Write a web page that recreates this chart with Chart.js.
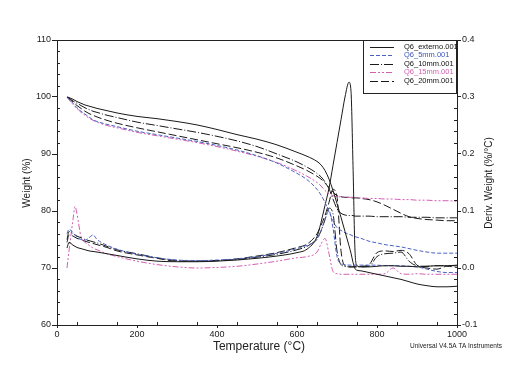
<!DOCTYPE html>
<html><head><meta charset="utf-8">
<script src="https://cdn.jsdelivr.net/npm/chart.js@4.4.0/dist/chart.umd.min.js"></script>
<style>html,body{margin:0;padding:0;background:#fff}#wrap{width:529px;height:368px}</style>
</head><body><div id="wrap"><canvas id="c" width="529" height="368"></canvas></div>
<script>
const temps = [25,30,40,45,50,60,70,80,90,100,125,150,200,250,300,350,400,450,500,550,600,625,650,660,670,680,690,700,710,720,730,735,740,745,750,760,780,800,820,840,860,880,900,925,950,975,1000];

const seriesNames = ["Q6_externo.001","Q6_5mm.001","Q6_10mm.001","Q6_15mm.001","Q6_20mm.001"];

const wExterno = [100,99.9,99.6,99.4,99.2,98.9,98.6,98.4,98.2,98.0,97.6,97.2,96.6,96.2,95.7,95.1,94.3,93.4,92.6,91.6,90.3,89.6,88.7,88.1,87.1,85.6,83.6,81.3,78.9,76.4,73.9,72.6,71.0,69.9,69.6,69.5,69.2,68.9,68.6,68.3,68.0,67.6,67.2,66.9,66.7,66.7,66.8];
const w5mm = [100,99.6,98.9,98.5,98.1,97.5,97.0,96.5,96.0,95.7,95.2,94.8,94.0,93.4,92.8,92.2,91.5,90.7,89.7,88.4,86.6,85.5,83.8,82.8,81.5,79.9,78.3,77.1,76.6,76.2,75.9,75.8,75.6,75.5,75.4,75.2,74.7,74.4,74.1,73.9,73.7,73.4,73.1,72.8,72.6,72.6,72.6];
const w10mm = [100,99.8,99.3,99.1,98.9,98.5,98.1,97.8,97.5,97.3,96.8,96.4,95.6,95.0,94.4,93.8,93.1,92.3,91.3,90.0,88.6,87.7,86.6,86.0,85.1,83.9,82.1,80.4,79.6,79.3,79.2,79.2,79.2,79.1,79.1,79.1,79.1,79.0,79.0,79.0,79.0,78.9,78.9,78.9,78.8,78.8,78.8];
const w15mm = [100,99.5,98.7,98.3,98.0,97.3,96.8,96.3,95.9,95.6,95.0,94.6,93.8,93.2,92.6,92.0,91.3,90.5,89.6,88.5,87.0,86.1,85.0,84.4,83.6,83.0,82.7,82.5,82.5,82.4,82.4,82.4,82.4,82.4,82.3,82.3,82.2,82.2,82.1,82.1,82.0,82.0,81.9,81.9,81.8,81.8,81.7];
const w20mm = [100,99.7,99.1,98.8,98.5,98.0,97.5,97.1,96.8,96.5,95.9,95.4,94.6,93.9,93.2,92.5,91.8,91.1,90.3,89.3,87.9,87.1,86.1,85.6,84.9,84.1,83.3,82.7,82.5,82.4,82.4,82.3,82.3,82.3,82.3,82.2,82.0,81.6,81.0,80.3,79.6,79.0,78.7,78.5,78.4,78.3,78.3];

const dExterno = [0.035,0.045,0.04,0.038,0.036,0.034,0.032,0.03,0.029,0.028,0.025,0.022,0.016,0.012,0.011,0.011,0.012,0.014,0.017,0.021,0.027,0.033,0.055,0.08,0.11,0.14,0.18,0.22,0.26,0.30,0.326,0.31,0.18,0.03,0.004,0.002,0.002,0.003,0.004,0.004,0.003,0.003,0.002,0.003,0.004,0.004,0.005];
const d5mm = [0.06,0.068,0.062,0.058,0.054,0.05,0.049,0.053,0.058,0.05,0.04,0.033,0.024,0.018,0.014,0.013,0.014,0.016,0.02,0.026,0.034,0.04,0.05,0.065,0.085,0.1,0.07,0.02,0.008,0.006,0.005,0.005,0.005,0.005,0.005,0.005,0.005,0.005,0.004,0.004,0.004,0.003,0.002,-0.002,-0.006,-0.008,-0.008];
const d10mm = [0.05,0.064,0.06,0.058,0.056,0.053,0.05,0.048,0.046,0.044,0.038,0.032,0.025,0.018,0.013,0.012,0.013,0.015,0.019,0.024,0.032,0.038,0.052,0.065,0.085,0.105,0.095,0.03,0.006,0.003,0.002,0.002,0.002,0.002,0.002,0.002,0.003,0.02,0.025,0.026,0.028,0.012,0.004,0.003,0.004,0.004,0.004];
const d15mm = [0.0,0.03,0.085,0.108,0.095,0.055,0.045,0.04,0.035,0.032,0.025,0.02,0.012,0.006,0.002,0.0,0.001,0.003,0.007,0.012,0.018,0.02,0.028,0.042,0.052,0.025,-0.006,-0.01,-0.011,-0.011,-0.011,-0.011,-0.011,-0.011,-0.011,-0.011,-0.011,-0.011,-0.01,0.0,-0.01,-0.011,-0.01,-0.011,-0.011,-0.011,-0.011];
const d20mm = [0.045,0.058,0.056,0.054,0.052,0.05,0.047,0.045,0.043,0.041,0.036,0.03,0.023,0.017,0.012,0.012,0.013,0.016,0.021,0.027,0.036,0.042,0.06,0.075,0.092,0.115,0.138,0.125,0.03,0.004,0.002,0.002,0.002,0.002,0.002,0.003,0.006,0.027,0.03,0.029,0.031,0.025,0.005,0.0,-0.002,0.003,0.001];

const styles = [
  {color:'#1a1a1a', dash:[]},
  {color:'#4b62c0', dash:[4,2]},
  {color:'#1a1a1a', dash:[9,2,1,2]},
  {color:'#d25fb4', dash:[6,2,2,2,2,2]},
  {color:'#1a1a1a', dash:[8,3]}
];
const weights = [wExterno,w5mm,w10mm,w15mm,w20mm];
const derivs = [dExterno,d5mm,d10mm,d15mm,d20mm];

function pts(arr){ return temps.map((t,i)=>({x:t,y:arr[i]})); }
const datasets = [];
seriesNames.forEach((n,i)=>{
  datasets.push({label:n, data:pts(weights[i]), yAxisID:'y', borderColor:styles[i].color, borderDash:styles[i].dash, borderWidth:1, pointRadius:0, fill:false, cubicInterpolationMode:'monotone'});
});
seriesNames.forEach((n,i)=>{
  datasets.push({label:n+' deriv', data:pts(derivs[i]), yAxisID:'y1', borderColor:styles[i].color, borderDash:styles[i].dash, borderWidth:1, pointRadius:0, fill:false, cubicInterpolationMode:'monotone'});
});

const FONT = 'Liberation Sans, Arial, sans-serif';

const extras = {
  id:'extras',
  afterDraw(chart){
    const ctx = chart.ctx, a = chart.chartArea, sx = chart.scales.x, sy = chart.scales.y, s1 = chart.scales.y1;
    ctx.save();
    ctx.strokeStyle='#222'; ctx.lineWidth=1;
    ctx.beginPath(); ctx.moveTo(a.left, a.top+0.5); ctx.lineTo(a.right, a.top+0.5); ctx.stroke();
    ctx.beginPath();
    for(let v=50; v<1000; v+=100){ const px=Math.round(sx.getPixelForValue(v))+0.5; ctx.moveTo(px,a.bottom); ctx.lineTo(px,a.bottom-3); }
    for(let v=62; v<110; v+=2){ if(v%10===0) continue; const py=Math.round(sy.getPixelForValue(v))+0.5; ctx.moveTo(a.left,py); ctx.lineTo(a.left+3,py); }
    for(let k=-8; k<40; k+=2){ if(k%10===0) continue; const py=Math.round(s1.getPixelForValue(k/100))+0.5; ctx.moveTo(a.right,py); ctx.lineTo(a.right-3,py); }
    ctx.stroke();
    ctx.fillStyle='#222';
    ctx.font='10px '+FONT; ctx.textAlign='center'; ctx.textBaseline='middle';
    ctx.save(); ctx.translate(27,183); ctx.rotate(-Math.PI/2); ctx.fillText('Weight (%)',0,0); ctx.restore();
    ctx.save(); ctx.translate(489,183); ctx.rotate(-Math.PI/2); ctx.fillText('Deriv. Weight (%/°C)',0,0); ctx.restore();
    ctx.font='12px '+FONT; ctx.fillText('Temperature (°C)',259,347);
    ctx.font='6.5px '+FONT; ctx.textAlign='left'; ctx.fillText('Universal V4.5A TA Instruments',410,346);
    const bx=363, by=a.top, bw=a.right-363, bh=54;
    ctx.fillStyle='#fff'; ctx.fillRect(bx,by,bw,bh);
    ctx.strokeStyle='#222'; ctx.strokeRect(bx+0.5,by+0.5,bw-1,bh-1);
    ctx.font='7.5px '+FONT; ctx.textAlign='left'; ctx.textBaseline='middle';
    seriesNames.forEach((n,i)=>{
      const yy = by+6.5+i*8.6;
      ctx.strokeStyle=styles[i].color; ctx.setLineDash(styles[i].dash); ctx.lineWidth=1;
      ctx.beginPath(); ctx.moveTo(370,Math.round(yy)+0.5); ctx.lineTo(394,Math.round(yy)+0.5); ctx.stroke();
      ctx.setLineDash([]);
      ctx.fillStyle = i===1?'#3a55c0':(i===3?'#d25fb4':'#111');
      ctx.fillText(n,404,yy);
    });
    ctx.restore();
  }
};

new Chart(document.getElementById('c'),{
  type:'line',
  data:{datasets},
  options:{
    responsive:false, animation:false, maintainAspectRatio:false,
    layout:{padding:{top:40,left:0,right:0,bottom:0}},
    plugins:{legend:{display:false}, tooltip:{enabled:false}},
    scales:{
      x:{type:'linear', min:0, max:1000,
        ticks:{stepSize:200, font:{size:9, family:FONT}, color:'#222', padding:1, maxRotation:0, callback:v=>String(v)},
        grid:{display:true, drawOnChartArea:false, drawTicks:true, tickLength:3, color:'#222'},
        border:{display:true, color:'#222'},
        afterFit:s=>{s.height=43;}},
      y:{type:'linear', position:'left', min:60, max:110,
        ticks:{stepSize:10, font:{size:9, family:FONT}, color:'#222', padding:1},
        grid:{display:true, drawOnChartArea:false, drawTicks:true, tickLength:5, color:'#222'},
        border:{display:true, color:'#222'},
        afterFit:s=>{s.width=57;}},
      y1:{type:'linear', position:'right', min:-0.1, max:0.4,
        ticks:{stepSize:0.1, font:{size:9, family:FONT}, color:'#222', padding:1, callback:v=>v.toFixed(1)},
        grid:{display:true, drawOnChartArea:false, drawTicks:true, tickLength:4, color:'#222'},
        border:{display:true, color:'#222'},
        afterFit:s=>{s.width=72;}}
    }
  },
  plugins:[extras]
});
</script></body></html>
